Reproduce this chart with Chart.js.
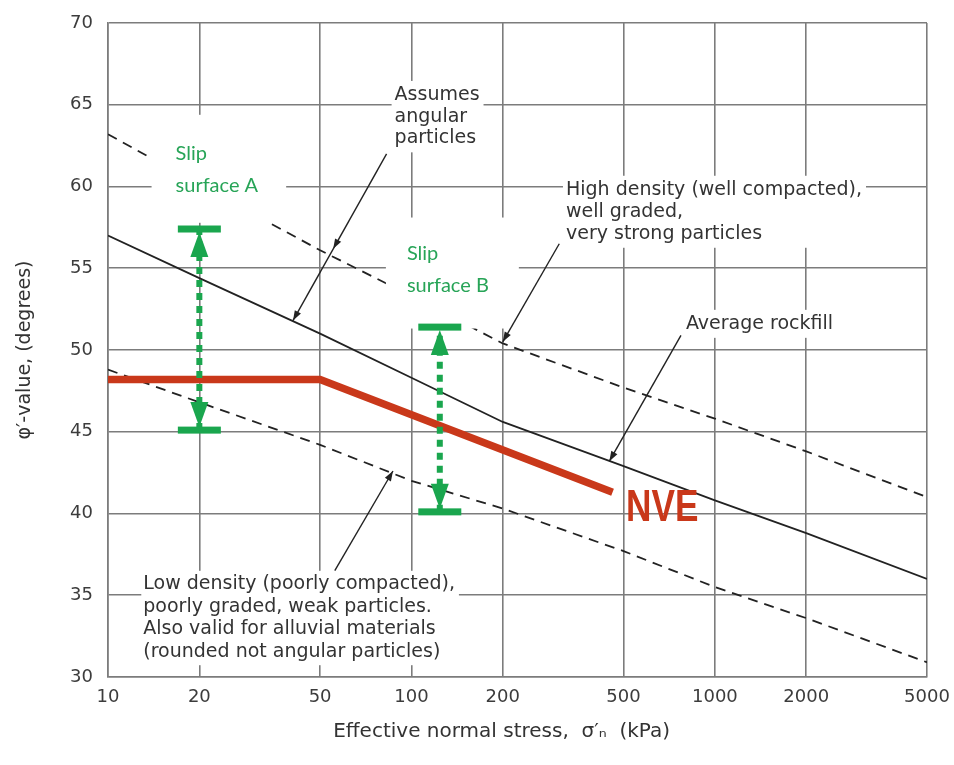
<!DOCTYPE html>
<html>
<head>
<meta charset="utf-8">
<script src="https://cdn.jsdelivr.net/npm/chart.js@4.4.0/dist/chart.umd.min.js"></script>
<style>
  html, body { margin: 0; padding: 0; background: #fff; }
  #wrap { width: 954px; height: 765px; }
</style>
</head>
<body>
<div id="wrap"><canvas id="chart" width="954" height="765"></canvas></div>
<script>
// curves (phi' in degrees vs stress in kPa)
const stress = [10, 20, 50, 100, 200, 500, 1000, 2000, 5000];
const highDensity = [63.2, 60.1, 56.1, 53.3, 50.4, 47.7, 45.8, 43.8, 41.0];
const averageRockfill = [57.0, 54.4, 51.0, 48.3, 45.6, 42.9, 40.8, 38.8, 36.0];
const lowDensity = [48.8, 46.8, 44.2, 42.0, 40.3, 37.7, 35.5, 33.6, 30.9];

// NVE line
const nveStress = [10, 50, 460];
const nvePhi = [48.2, 48.2, 41.3];

// slip surface ranges
const slipNames = ["A", "B"];
const slipStress = [20, 124];
const slipUpper = [57.4, 51.4];
const slipLower = [45.1, 40.1];

const xTicks = [10, 20, 50, 100, 200, 500, 1000, 2000, 5000];
const yMin = 30, yMax = 70, yStep = 5;

const GRID = "#7c7c7c";
const INK = "#222";
const GREEN = "#1aa64e";
const GREEN_TEXT = "#27a457";
const RED = "#c9381a";

// text notes, placed in data coordinates (left edge, middle of first line)
const notes = [
  { lines: ["Assumes", "angular", "particles"], x: 88, y: 65.6, gap: 21.7, pad: [3, 4, 3, 3] },
  { lines: ["High density (well compacted),", "well graded,", "very strong particles"], x: 323, y: 59.8, gap: 22, pad: [3, 4, 3, 3] },
  { lines: ["Average rockfill"], x: 803, y: 51.6, gap: 22, pad: [3, 3, 3, 3] },
  { lines: ["Low density (poorly compacted),", "poorly graded, weak particles.", "Also valid for alluvial materials", "(rounded not angular particles)"], x: 13.07, y: 35.7, gap: 22.8, pad: [2, 4, 2, 2] }
];
const slipNotes = [
  { lines: ["Slip", "surface A"], x: 16.7, y: 62.0, gap: 32, pad: [28, 28, 26, 24] },
  { lines: ["Slip", "surface B"], x: 96.6, y: 55.9, gap: 32, pad: [25, 30, 32, 21] }
];
const pointers = [
  { from: [82.8, 62.0], to: [40.7, 51.8], mid: 0.57 },
  { from: [307, 56.5], to: [200, 50.5] },
  { from: [773, 50.9], to: [449, 43.2] },
  { from: [55.9, 36.5], to: [86.9, 42.6] }
];

function pts(xs, ys) {
  return xs.map((x, i) => ({ x: x, y: ys[i] }));
}

function head(ctx, x1, y1, x2, y2, len, half) {
  const a = Math.atan2(y2 - y1, x2 - x1);
  ctx.beginPath();
  ctx.moveTo(x2, y2);
  ctx.lineTo(x2 - len * Math.cos(a) + half * Math.sin(a), y2 - len * Math.sin(a) - half * Math.cos(a));
  ctx.lineTo(x2 - len * Math.cos(a) - half * Math.sin(a), y2 - len * Math.sin(a) + half * Math.cos(a));
  ctx.closePath();
  ctx.fill();
}

function drawNote(ctx, xs, ys, n, font, color) {
  const px = xs.getPixelForValue(n.x);
  const py = ys.getPixelForValue(n.y);
  ctx.font = font;
  const w = Math.max(...n.lines.map(l => ctx.measureText(l).width));
  const h = n.gap * (n.lines.length - 1);
  const top = py - 11, bottom = py + h + 11;
  ctx.fillStyle = "#fff";
  ctx.fillRect(px - n.pad[3], top - n.pad[0], w + n.pad[3] + n.pad[1], bottom - top + n.pad[0] + n.pad[2]);
  ctx.fillStyle = color;
  ctx.textAlign = "left";
  ctx.textBaseline = "middle";
  n.lines.forEach((l, i) => ctx.fillText(l, px, py + i * n.gap));
}

const annotations = {
  id: "annotations",
  afterDatasetsDraw(chart) {
    const ctx = chart.ctx;
    const xs = chart.scales.x, ys = chart.scales.y;
    ctx.save();

    // label boxes and texts
    notes.forEach(n => drawNote(ctx, xs, ys, n, '19px "DejaVu Sans"', "#333"));
    slipNotes.forEach(n => drawNote(ctx, xs, ys, n, '20px Lato', GREEN_TEXT));

    // pointer arrows
    ctx.strokeStyle = INK;
    ctx.fillStyle = INK;
    ctx.lineWidth = 1.4;
    pointers.forEach(p => {
      const x1 = xs.getPixelForValue(p.from[0]), y1 = ys.getPixelForValue(p.from[1]);
      const x2 = xs.getPixelForValue(p.to[0]), y2 = ys.getPixelForValue(p.to[1]);
      ctx.beginPath();
      ctx.moveTo(x1, y1);
      ctx.lineTo(x2, y2);
      ctx.stroke();
      head(ctx, x1, y1, x2, y2, 10, 3.5);
      if (p.mid) {
        const mx = x1 + (x2 - x1) * p.mid, my = y1 + (y2 - y1) * p.mid;
        head(ctx, x1, y1, mx, my, 10, 3.5);
      }
    });

    // slip surface bars and arrow heads
    ctx.fillStyle = GREEN;
    slipStress.forEach((s, i) => {
      const x = xs.getPixelForValue(s);
      const yt = ys.getPixelForValue(slipUpper[i]);
      const yb = ys.getPixelForValue(slipLower[i]);
      ctx.fillRect(x - 21.5, yt - 3.5, 43, 7);
      ctx.fillRect(x - 21.5, yb - 3.5, 43, 7);
      head(ctx, x, yt + 28, x, yt + 3, 25, 9);
      head(ctx, x, yb - 28, x, yb - 3, 25, 9);
    });

    // NVE label (squeezed to match the narrow bold face)
    ctx.fillStyle = RED;
    ctx.font = 'bold 44px "Liberation Sans"';
    ctx.textAlign = "left";
    ctx.textBaseline = "middle";
    ctx.translate(xs.getPixelForValue(509.6), ys.getPixelForValue(40.35) + 1);
    ctx.scale(0.8, 1);
    ctx.fillText("NVE", 0, 0);
    ctx.restore();
  }
};

const datasets = [];
slipStress.forEach((s, i) => {
  datasets.push({
    label: "Slip surface " + slipNames[i],
    data: pts([s, s], [slipLower[i], slipUpper[i]]),
    borderColor: GREEN,
    borderWidth: 6,
    borderDash: [7, 6],
    borderCapStyle: "butt"
  });
});
datasets.push({
  label: "NVE",
  data: pts(nveStress, nvePhi),
  borderColor: RED,
  borderWidth: 7.5,
  borderJoinStyle: "miter"
});
datasets.push({
  label: "High density",
  data: pts(stress, highDensity),
  borderColor: INK,
  borderWidth: 1.8,
  borderDash: [10, 7]
});
datasets.push({
  label: "Average rockfill",
  data: pts(stress, averageRockfill),
  borderColor: INK,
  borderWidth: 1.8
});
datasets.push({
  label: "Low density",
  data: pts(stress, lowDensity),
  borderColor: INK,
  borderWidth: 1.8,
  borderDash: [10, 7]
});

new Chart(document.getElementById("chart"), {
  type: "line",
  data: { datasets: datasets },
  options: {
    responsive: false,
    animation: false,
    layout: { padding: { top: 23, right: 27, left: 0, bottom: 0 } },
    elements: { point: { radius: 0 }, line: { tension: 0 } },
    plugins: { legend: { display: false }, tooltip: { enabled: false } },
    scales: {
      x: {
        type: "logarithmic",
        min: 10,
        max: 5000,
        afterBuildTicks: axis => { axis.ticks = xTicks.map(v => ({ value: v })); },
        afterFit: axis => { axis.height = 88; axis.paddingLeft = 0; axis.paddingRight = 0; },
        ticks: {
          callback: v => String(v),
          font: { family: "DejaVu Sans", size: 18 },
          color: "#3c3c3c",
          padding: 10,
          maxRotation: 0,
          autoSkip: false
        },
        grid: { color: GRID, lineWidth: 1.6, drawTicks: false },
        border: { color: GRID, width: 1.6 },
        title: {
          display: true,
          text: "Effective normal stress,  σ′ₙ  (kPa)\u00a0\u00a0\u00a0\u00a0\u00a0",
          font: { family: "DejaVu Sans", size: 20 },
          color: "#333",
          padding: { top: 0, bottom: 21 }
        }
      },
      y: {
        min: yMin,
        max: yMax,
        afterFit: axis => { axis.width = 108; axis.paddingTop = 0; axis.paddingBottom = 0; },
        ticks: {
          stepSize: yStep,
          font: { family: "DejaVu Sans", size: 18 },
          color: "#3c3c3c",
          padding: 15
        },
        grid: { color: GRID, lineWidth: 1.6, drawTicks: false },
        border: { color: GRID, width: 1.6 },
        title: {
          display: true,
          text: "φ′-value, (degrees)",
          font: { family: "DejaVu Sans", size: 19 },
          color: "#333",
          padding: { top: 14, bottom: 0 }
        }
      }
    }
  },
  plugins: [annotations]
});
</script>
</body>
</html>
